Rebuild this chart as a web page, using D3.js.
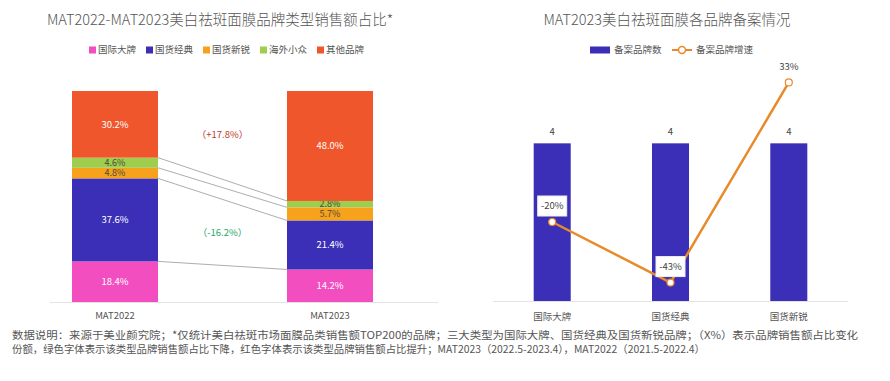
<!DOCTYPE html>
<html>
<head>
<meta charset="utf-8">
<script src="https://cdn.jsdelivr.net/npm/d3@7"></script>
<style>
  body { margin: 0; background: #fff; }
  svg { display: block; font-family: "Noto Sans CJK SC", "Noto Sans", sans-serif; }
</style>
</head>
<body>
<script>
// left chart data
var periods = ["MAT2022", "MAT2023"];
var types = ["国际大牌", "国货经典", "国货新锐", "海外小众", "其他品牌"];
var shares2022 = [18.4, 37.6, 4.8, 4.6, 30.2];
var shares2023 = [14.2, 21.4, 5.7, 2.8, 48.0];
var typeColors = ["#f24ec0", "#3a2fb6", "#f6a21c", "#9fcd4e", "#f0562b"];
var changes = [{type: "其他品牌", text: "（+17.8%）", color: "#c0392b"},
               {type: "国货经典", text: "（-16.2%）", color: "#27a86a"}];

// right chart data
var groups = ["国际大牌", "国货经典", "国货新锐"];
var filedCounts = [4, 4, 4];
var filedGrowth = [-0.20, -0.43, 0.33];

var footer1 = "数据说明：来源于美业颜究院；*仅统计美白祛斑市场面膜品类销售额TOP200的品牌；三大类型为国际大牌、国货经典及国货新锐品牌；（X%）表示品牌销售额占比变化";
var footer2 = "份额，绿色字体表示该类型品牌销售额占比下降，红色字体表示该类型品牌销售额占比提升；MAT2023（2022.5-2023.4），MAT2022（2021.5-2022.4）";

var svg = d3.select("body").append("svg")
    .attr("width", 890)
    .attr("height", 381);

// ---------- left chart ----------
svg.append("text")
    .attr("x", 220).attr("y", 25)
    .attr("text-anchor", "middle")
    .style("font-size", "14.5px")
    .style("font-weight", 300)
    .style("fill", "#555")
    .text("MAT2022-MAT2023美白祛斑面膜品牌类型销售额占比*");

var legL = svg.append("g").attr("transform", "translate(89,50)");
types.forEach(function(t, i) {
  var g = legL.append("g").attr("transform", "translate(" + (i * 57) + ",0)");
  g.append("rect").attr("x", 0).attr("y", -3.5).attr("width", 7).attr("height", 7)
    .style("fill", typeColors[i]);
  g.append("text").attr("x", 9).attr("y", 0).attr("dy", "0.35em")
    .style("font-size", "9.5px").style("fill", "#555").text(t);
});

var rows = periods.map(function(p, i) {
  var r = {period: p};
  var s = i === 0 ? shares2022 : shares2023;
  types.forEach(function(t, j) { r[t] = s[j]; });
  return r;
});
var stack = d3.stack().keys(types).offset(d3.stackOffsetExpand)(rows);

var xL = d3.scalePoint().domain(periods).range([115, 330]);
var yL = d3.scaleLinear().domain([0, 1]).range([302, 91]);
var bwL = 86;
var colorL = d3.scaleOrdinal().domain(types).range(typeColors);

svg.append("line")
    .attr("x1", 50).attr("x2", 438).attr("y1", 302.5).attr("y2", 302.5)
    .style("stroke", "#e3e3e3");

var layers = svg.selectAll(".layer").data(stack).enter().append("g")
    .attr("class", "layer")
    .style("fill", function(d) { return colorL(d.key); });

layers.selectAll("rect").data(function(d) { return d; }).enter().append("rect")
    .attr("x", function(d) { return xL(d.data.period) - bwL / 2; })
    .attr("width", bwL)
    .attr("y", function(d) { return yL(d[1]); })
    .attr("height", function(d) { return yL(d[0]) - yL(d[1]); });

layers.selectAll("text").data(function(d) { return d.map(function(v) { v.key = d.key; return v; }); })
  .enter().append("text")
    .attr("x", function(d) { return xL(d.data.period); })
    .attr("y", function(d) { return (yL(d[0]) + yL(d[1])) / 2; })
    .attr("dy", "0.35em")
    .attr("text-anchor", "middle")
    .style("font-size", function(d) { return (d.key === "国货新锐" || d.key === "海外小众") ? "9px" : "9.5px"; })
    .style("fill", function(d) { return (d.key === "国货新锐" || d.key === "海外小众") ? "#4a4a3a" : "#fff"; })
    .text(function(d) { return d.data[d.key].toFixed(1) + "%"; });

// connector lines between tops of the lower segments
svg.selectAll(".conn").data(stack.slice(0, 4)).enter().append("line")
    .attr("class", "conn")
    .attr("x1", xL(periods[0]) + bwL / 2)
    .attr("x2", xL(periods[1]) - bwL / 2)
    .attr("y1", function(d) { return yL(d[0][1]); })
    .attr("y2", function(d) { return yL(d[1][1]); })
    .style("stroke", "#8a8a8a")
    .style("stroke-width", 0.7);

svg.selectAll(".chg").data(changes).enter().append("text")
    .attr("x", (xL(periods[0]) + xL(periods[1])) / 2)
    .attr("y", function(c) {
      var l = stack[types.indexOf(c.type)];
      return (yL(l[0][0]) + yL(l[0][1]) + yL(l[1][0]) + yL(l[1][1])) / 4;
    })
    .attr("dy", "0.35em")
    .attr("text-anchor", "middle")
    .style("font-size", "9.5px")
    .style("fill", function(c) { return c.color; })
    .text(function(c) { return c.text; });

svg.selectAll(".xlabL").data(periods).enter().append("text")
    .attr("x", function(d) { return xL(d); })
    .attr("y", 316).attr("dy", "0.35em")
    .attr("text-anchor", "middle")
    .style("font-size", "9.5px").style("fill", "#555")
    .text(function(d) { return d; });

// ---------- right chart ----------
svg.append("text")
    .attr("x", 667).attr("y", 25)
    .attr("text-anchor", "middle")
    .style("font-size", "14.5px")
    .style("font-weight", 300)
    .style("fill", "#555")
    .text("MAT2023美白祛斑面膜各品牌备案情况");

var legR = svg.append("g").attr("transform", "translate(590,50)");
legR.append("rect").attr("x", 0).attr("y", -3.5).attr("width", 20).attr("height", 7)
    .style("fill", "#3a2fb6");
legR.append("text").attr("x", 24).attr("y", 0).attr("dy", "0.35em")
    .style("font-size", "9.5px").style("fill", "#555").text("备案品牌数");
legR.append("line").attr("x1", 82).attr("x2", 102).attr("y1", 0).attr("y2", 0)
    .style("stroke", "#e8892a").style("stroke-width", 2);
legR.append("circle").attr("cx", 92).attr("cy", 0).attr("r", 3.5)
    .style("fill", "#fff").style("stroke", "#e8892a").style("stroke-width", 1.5);
legR.append("text").attr("x", 106).attr("y", 0).attr("dy", "0.35em")
    .style("font-size", "9.5px").style("fill", "#555").text("备案品牌增速");

var xR = d3.scaleBand().domain(groups).range([493, 848])
    .paddingInner(0.687).paddingOuter(0.344);
var yR = d3.scaleLinear().domain([0, 6.68]).range([301, 37.7]);
var yG = d3.scaleLinear().domain([-0.5, 0.5]).range([301, 37.7]);

svg.append("line")
    .attr("x1", 493).attr("x2", 848).attr("y1", 301.5).attr("y2", 301.5)
    .style("stroke", "#e3e3e3");

svg.selectAll(".barR").data(filedCounts).enter().append("rect")
    .attr("class", "barR")
    .attr("x", function(d, i) { return xR(groups[i]); })
    .attr("width", xR.bandwidth())
    .attr("y", function(d) { return yR(d); })
    .attr("height", function(d) { return yR(0) - yR(d); })
    .style("fill", "#3a2fb6");

svg.selectAll(".barLab").data(filedCounts).enter().append("text")
    .attr("x", function(d, i) { return xR(groups[i]) + xR.bandwidth() / 2; })
    .attr("y", function(d) { return yR(d) - 12; })
    .attr("dy", "0.35em")
    .attr("text-anchor", "middle")
    .style("font-size", "9.5px").style("fill", "#444")
    .text(function(d) { return d; });

var cx = function(d, i) { return xR(groups[i]) + xR.bandwidth() / 2; };

svg.append("path")
    .datum(filedGrowth)
    .attr("d", d3.line().x(cx).y(function(d) { return yG(d); }))
    .style("fill", "none")
    .style("stroke", "#e8892a")
    .style("stroke-width", 2.5);

svg.selectAll(".dot").data(filedGrowth).enter().append("circle")
    .attr("cx", cx)
    .attr("cy", function(d) { return yG(d); })
    .attr("r", 3.5)
    .style("fill", "#fff")
    .style("stroke", "#e8892a")
    .style("stroke-width", 1.2);

var gl = svg.selectAll(".glab").data(filedGrowth).enter().append("g")
    .attr("transform", function(d, i) { return "translate(" + cx(d, i) + "," + (yG(d) - 16) + ")"; });
gl.append("rect")
    .attr("x", -14.5).attr("y", -10).attr("width", 29).attr("height", 20)
    .style("fill", "#fff")
    .style("stroke", function(d) { return d > 0 ? "none" : "#eee"; });
gl.append("text")
    .attr("dy", "0.35em")
    .attr("text-anchor", "middle")
    .style("font-size", "9.5px").style("fill", "#444")
    .text(function(d) { return Math.round(d * 100) + "%"; });

svg.selectAll(".xlabR").data(groups).enter().append("text")
    .attr("x", function(d) { return xR(d) + xR.bandwidth() / 2; })
    .attr("y", 317).attr("dy", "0.35em")
    .attr("text-anchor", "middle")
    .style("font-size", "9.5px").style("fill", "#555")
    .text(function(d) { return d; });

// ---------- footer ----------
svg.append("text")
    .attr("x", 12).attr("y", 335).attr("dy", "0.35em")
    .style("font-size", "10.5px").style("fill", "#555")
    .attr("textLength", 846).attr("lengthAdjust", "spacingAndGlyphs")
    .text(footer1);
svg.append("text")
    .attr("x", 12).attr("y", 349).attr("dy", "0.35em")
    .style("font-size", "10.5px").style("fill", "#555")
    .attr("textLength", 693).attr("lengthAdjust", "spacingAndGlyphs")
    .text(footer2);
</script>
</body>
</html>
